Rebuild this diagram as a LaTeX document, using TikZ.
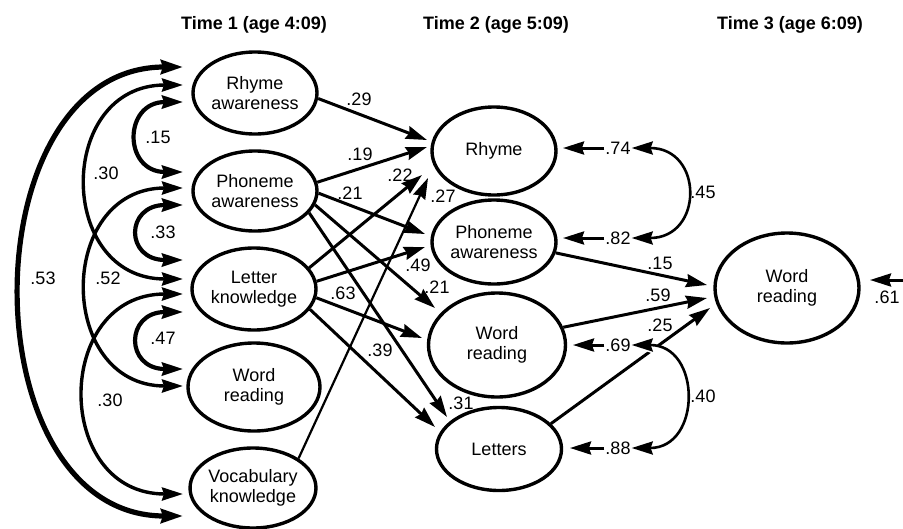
\documentclass[tikz,border=0pt]{standalone}
\usepackage{fontspec}
\setmainfont{Liberation Sans}
\usetikzlibrary{arrows.meta,shapes.geometric}

\tikzset{
  bighead/.tip={Stealth[length=21pt,width=13pt,inset=2pt]},
  hugehead/.tip={Stealth[length=22pt,width=14pt,inset=2pt]}
}

\begin{document}
\begin{tikzpicture}[x=1pt,y=-1pt,
  every node/.style={font=\fontsize{18}{20}\selectfont},
  latent/.style={ellipse, draw, line width=3.4pt, inner sep=0pt, align=center},
  val/.style={inner sep=1pt},
  heading/.style={font=\fontsize{18}{20}\selectfont\bfseries},
  patharr/.style={line width=3pt, -bighead},
  thinarr/.style={line width=2.2pt, -bighead},
  corr/.style={line width=4.2pt, bighead-bighead},
  corrwide/.style={line width=3.4pt, bighead-bighead},
  corrouter/.style={line width=5.2pt, hugehead-hugehead},
  resid/.style={line width=3pt, -bighead},
  rescorr/.style={line width=2.6pt, bighead-bighead},
  halo/.style={preaction={draw=white, line width=9pt, arrows=-}}
]
\useasboundingbox (0,0) rectangle (903,528);

% column headings
\node[heading] (h1) at (254,25) {Time 1 (age 4:09)};
\node[heading] (h2) at (496,25) {Time 2 (age 5:09)};
\node[heading] (h3) at (790,25) {Time 3 (age 6:09)};

% Time 1 measures
\node[latent, minimum width=124pt, minimum height=82pt] (ra) at (255,93) {Rhyme\\awareness};
\node[latent, minimum width=124pt, minimum height=80pt] (pa) at (255,191) {Phoneme\\awareness};
\node[latent, minimum width=124pt, minimum height=82pt] (lk) at (254,289) {Letter\\knowledge};
\node[latent, minimum width=132pt, minimum height=88pt] (wrA) at (254,387) {Word\\reading};
\node[latent, minimum width=124pt, minimum height=80pt] (voc) at (253,488) {Vocabulary\\knowledge};

% Time 2 measures
\node[latent, minimum width=124pt, minimum height=88pt] (rhB) at (494,151) {Rhyme};
\node[latent, minimum width=124pt, minimum height=84pt] (paB) at (494,242) {Phoneme\\awareness};
\node[latent, minimum width=137pt, minimum height=104pt] (wrB) at (497,345) {Word\\reading};
\node[latent, minimum width=125pt, minimum height=83pt] (leB) at (499,449) {Letters};

% Time 3 outcome
\node[latent, minimum width=144pt, minimum height=110pt] (wrC) at (787,288) {Word\\reading};

% arrow ends on the left of the Time 1 measures
\coordinate (raL1) at ([shift={(-72,-26)}]ra.center);
\coordinate (raL2) at ([shift={(-72,-8)}]ra.center);
\coordinate (raL3) at ([shift={(-72,9)}]ra.center);
\coordinate (paL1) at ([shift={(-72,-19)}]pa.center);
\coordinate (paL2) at ([shift={(-72,-3)}]pa.center);
\coordinate (paL3) at ([shift={(-72,14)}]pa.center);
\coordinate (lkL1) at ([shift={(-71,-29)}]lk.center);
\coordinate (lkL2) at ([shift={(-71,-10)}]lk.center);
\coordinate (lkL3) at ([shift={(-71,5)}]lk.center);
\coordinate (lkL4) at ([shift={(-71,23)}]lk.center);
\coordinate (wrL1) at ([shift={(-71,-18)}]wrA.center);
\coordinate (wrL2) at ([shift={(-71,-1)}]wrA.center);
\coordinate (voL1) at ([shift={(-70,6)}]voc.center);
\coordinate (voL2) at ([shift={(-70,28)}]voc.center);

% correlations among Time 1 measures
\draw[corrouter] (raL1) .. controls +(-215,0) and +(-215,0) .. (voL2);
\draw[corrwide] (raL2) .. controls +(-127,0) and +(-127,0) .. (lkL2);
\draw[corr] (raL3) .. controls +(-60,0) and +(-60,0) .. (paL1);
\draw[corrwide] (paL2) .. controls +(-127,0) and +(-127,0) .. (wrL2);
\draw[corr] (paL3) .. controls +(-58,0) and +(-58,0) .. (lkL1);
\draw[corr] (lkL4) .. controls +(-58,0) and +(-58,0) .. (wrL1);
\draw[corrwide] (lkL3) .. controls +(-130,0) and +(-130,0) .. (voL1);

\node[val] (c53) at (43,278) {.53};
\node[val] (c30a) at (106,173) {.30};
\node[val] (c52) at (108,278) {.52};
\node[val] (c30b) at (110,400) {.30};
\node[val] (c15) at (158,137) {.15};
\node[val] (c33) at (163,232) {.33};
\node[val] (c47) at (163,338) {.47};

% arrow ends at the Time 2 measures
\coordinate (t29) at ([shift={(-67,-11)}]rhB.center);
\coordinate (t19) at ([shift={(-67,-4)}]rhB.center);
\coordinate (t22) at ([shift={(-72,24)}]rhB.center);
\coordinate (t27) at ([shift={(-66,27)}]rhB.center);
\coordinate (t21a) at ([shift={(-69,-8)}]paB.center);
\coordinate (t49) at ([shift={(-69,5)}]paB.center);
\coordinate (t21b) at ([shift={(-62,-37)}]wrB.center);
\coordinate (t63) at ([shift={(-75,-7)}]wrB.center);
\coordinate (t31) at ([shift={(-52,-32)}]leB.center);
\coordinate (t39) at ([shift={(-64,-22)}]leB.center);

% paths from Time 1 to Time 2
\draw[patharr] (ra.-5) -- (t29);
\draw[patharr] (pa.8) -- (t19);
\draw[patharr] (pa.-2) -- (t21a);
\draw[patharr] (pa.-13) -- (t21b);
\draw[patharr] (pa.-22) -- (t31);
\draw[patharr] (lk.21) -- (t22);
\draw[patharr] (lk.7) -- (t49);
\draw[patharr] (lk.-8) -- (t63);
\draw[patharr] (lk.-20) -- (t39);
\draw[thinarr] (voc.33) -- (t27);

\node[val] (p29) at (359,99) {.29};
\node[val] (p19) at (360,154) {.19};
\node[val] (p21a) at (350,193) {.21};
\node[val] (p22) at (400,175) {.22};
\node[val] (p27) at (443,196) {.27};
\node[val] (p49) at (418,265) {.49};
\node[val] (p21b) at (437,287) {.21};
\node[val] (p63) at (343,293) {.63};
\node[val] (p39) at (380,350) {.39};
\node[val] (p31) at (461,403) {.31};

% paths from Time 2 to Time 3
\coordinate (t15) at ([shift={(-80,-3)}]wrC.center);
\coordinate (t59) at ([shift={(-80,10)}]wrC.center);
\coordinate (t25) at ([shift={(-77,20)}]wrC.center);
\draw[patharr] (paB.-10) -- (t15);
\draw[patharr] (wrB.15) -- (t59);
\draw[patharr] (leB.26) -- (t25);

\node[val] (q15) at (660,263) {.15};
\node[val] (q59) at (658,295) {.59};
\node[val] (q25) at (660,325) {.25};

% residuals of the Time 2 measures
\node[val] (r74) at (618,148) {.74};
\node[val] (r82) at (618,238) {.82};
\node[val] (r69) at (618,345) {.69};
\node[val] (r88) at (618,448) {.88};
\coordinate (tRh) at ([shift={(69,-3)}]rhB.center);
\coordinate (tPa) at ([shift={(69,-4)}]paB.center);
\coordinate (tWr) at ([shift={(76,0)}]wrB.center);
\coordinate (tLe) at ([shift={(71,-1)}]leB.center);
\draw[resid] (r74) -- (tRh);
\draw[resid] (r82) -- (tPa);
\draw[resid] (r69) -- (tWr);
\draw[resid] (r88) -- (tLe);

\draw[rescorr] (r74.east) .. controls +(72,0) and +(72,0) .. (r82.east);
\draw[rescorr, halo] (r69.east) .. controls +(70,0) and +(70,0) .. (r88.east);
\node[val] (r45) at (703,192) {.45};
\node[val] (r40) at (703,396) {.40};

% residual of the Time 3 outcome
\coordinate (e61) at (915,280);
\coordinate (t61) at ([shift={(83,-8)}]wrC.center);
\draw[resid] (e61) -- (t61);
\node[val] (r61) at (887,297) {.61};
\end{tikzpicture}
\end{document}
